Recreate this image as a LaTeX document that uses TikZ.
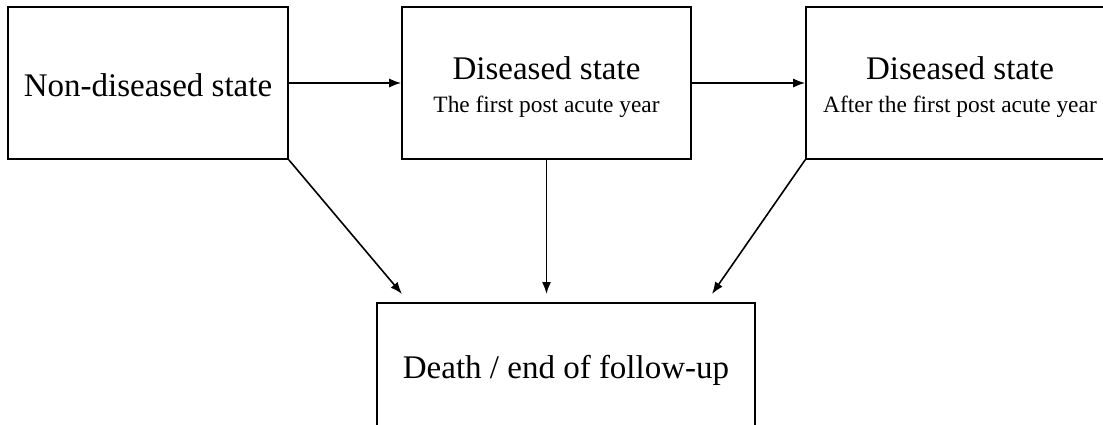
\documentclass[tikz,border=0pt]{standalone}
\usepackage{fontspec}
\setmainfont{Liberation Serif}
\usetikzlibrary{arrows.meta}

\newcommand{\bigtxt}{\fontsize{33}{38}\selectfont}
\newcommand{\smalltxt}{\fontsize{23.4}{28}\selectfont}

\begin{document}
\begin{tikzpicture}[x=1pt,y=-1pt]
        \tikzstyle{state} = [draw,line width=1.6pt,rectangle,inner sep=0pt,align=center,font=\bigtxt]
        \tikzstyle{flow} = [line width=1.6pt,-{Latex[length=12pt,width=9pt]}]
        \useasboundingbox (0,0) rectangle (1103,425);
        \node[state,minimum width=280pt,minimum height=152pt] (nondis) at (148,83)
          {\rule{0pt}{26.5pt}Non-diseased state};
        \node[state,minimum width=289pt,minimum height=152pt] (dis1) at (546.5,83)
          {\rule{0pt}{31pt}Diseased state\\[-5pt]{\smalltxt The first post acute year}};
        \node[state,minimum width=308pt,minimum height=152pt] (dis2) at (960,83)
          {\rule{0pt}{31pt}Diseased state\\[-5pt]{\smalltxt After the first post acute year}};
        \node[state,minimum width=378pt,minimum height=134pt] (death) at (566,370) {Death / end of follow-up};
        \coordinate (in1) at (402,294);
        \coordinate (in2) at (546.5,294);
        \coordinate (in3) at (712,294);
        \draw[flow] (nondis) -- (dis1);
        \draw[flow] (dis1) -- (dis2);
        \draw[flow] (nondis.south east) -- (in1);
        \draw[flow] (dis1.south) -- (in2);
        \draw[flow] (dis2.south west) -- (in3);
      \end{tikzpicture}
\end{document}
